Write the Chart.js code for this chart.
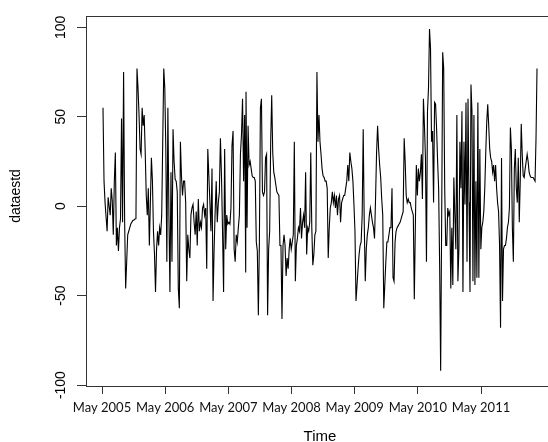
<!DOCTYPE html>
<html>
<head>
<meta charset="utf-8">
<title>dataestd</title>
<script src="https://cdn.jsdelivr.net/npm/chart.js@4.4.1/dist/chart.umd.min.js"></script>
<style>
  html, body { margin: 0; padding: 0; background: #fff; overflow: hidden; }
  #wrap { position: relative; width: 556px; height: 442px; }
</style>
</head>
<body>
<div id="wrap"><canvas id="chart"></canvas></div>
<script>
"use strict";

/* ── Data (weekly-ish readings) ────────────────────────────────────────── */
// each block of readings runs evenly from segStart[i] to segEnd[i] (decimal years)
const segStart = [2005.349, 2006.441, 2007.613, 2008.784, 2009.956, 2011.127];
const segEnd   = [2006.425, 2007.608, 2008.768, 2009.940, 2011.111, 2012.219];

const vals2005 = [55, 14, 2, -6, -14, 5, 0, -5, 10, 3, -16, 14, 30, -22, -12, -25, -12, -7, 49, -9,
  75, -8, -46, -31, -16, -14, -12, -10, -9, -8, -7.7, -7.2, -7, 77, 66, 51, 32, 29, 55, 45,
  51, 30, 6, -5, 10, -22, 2, 27, 14, -14, -27, -48, -24, -14, -22, -12, -16, -5, 36, 77,
  66, 32, -31, 55, -5, -48, 19];
const vals2006 = [-31, 43, 25, 15, 14, 8, -46, -57, 36, 17, 6, 14, 14, 2, -42, -16, -24, -29, -5, -1,
  1, -9, -16, -3, -22, 4, -14, -9, -12, -1, 1, -5, -1, -35, 32, 17, 2, -14, 21, -53,
  -24, -3, 14, -9, 2, 8, 38, 17, -14, -48, 32, -24, -5, -10, -9, -10, -1, 34, 42, -24,
  -31, -16, -20, -12, -5, 29, 40, 60, 14, 51, -37];
const vals2007 = [64, -12, 45, 23, 25, 21, 17, 16, 16, 14, -20, -25, -61, -20, 55, 60, 8, 6, 8, 27,
  29, -61, -24, -14, 36, 62, 30, 19, 16, 12, 8, 7, 6, -22, -22, -63, -22, -16, -22, -39,
  -29, -35, -24, -18, -24, -20, -16, 36, -42, -22, -18, -12, -14, -1, -18, -9, -5, -12, 19, -27,
  -12, -14, -9, 30, -12, -33, -27, -16, -14, 75, 36, 51];
const vals2008 = [36, 29, 21, 17, 16, 14, 14, 10, -29, -12, -1, 2, 8, 2, 6, -1, 6, -5, 4, 6,
  -9, 2, 4, 6, 6, 10, 14, 23, 14, 30, 25, 21, 14, 1, -14, -53, -44, -35, -27, -22,
  -20, -5, 43, -9, -42, -24, -16, -12, -5, -1, -5, -9, -12, -18, 4, 30, 45, 32, 23, 16,
  4, -5, -57, -44, -31, -20, -20, -16, -12, -12, 10, -40];
const vals2009 = [-42, -20, -14, -12, -11, -10, -9, -7, -5, -3, 38, 25, 6, 2, 4, 2, 2, -1, -3, -5,
  -52, -12, 23, 6, 21, 14, 19, 29, 4, 60, 45, 27, -31, 53, 66, 99, 88, 36, 42, 2,
  58, 57, 43, 25, 10, -33, -92, -7, 86, 77, 10, -22, -22, -1, -5, -3, -46, -12, -44, 16,
  -5, -24, 51, -42, -24, 36, 10, 53, -48, 36, 1, 58, -31];
const vals2011 = [60, 2, -48, 68, 53, -42, 51, -44, 14, -40, 58, -40, 32, -24, -12, -9, -3, 10, 30, 47,
  57, 45, 32, 27, 25, 19, 23, 14, 23, 10, 2, -3, -22, -68, 27, -53, -24, -22, -22, -18,
  -12, -9, -1, 44, 32, -12, -31, 21, 32, 10, 2, 27, -9, 14, 46, 29, 17, 16, 21, 25,
  29, 25, 19, 17, 16, 16, 16, 15, 14, 38, 77];

const segments = [vals2005, vals2006, vals2007, vals2008, vals2009, vals2011];

const tickYears = [2005, 2006, 2007, 2008, 2009, 2010, 2011];
const yTicks    = [-100, -50, 0, 50, 100];

/* ── Build {x, y} points ───────────────────────────────────────────────── */
const points = [];
segments.forEach((vals, s) => {
  const step = (segEnd[s] - segStart[s]) / (vals.length - 1);
  vals.forEach((v, i) => points.push({ x: segStart[s] + i * step, y: v }));
});

const INK = "#333";

/* ── Box, rotated y labels and axis titles (R style) ───────────────────── */
const rDecor = {
  id: "rDecor",
  afterDraw(chart) {
    const { ctx, chartArea: a, scales: { y } } = chart;
    ctx.save();
    ctx.strokeStyle = INK;
    ctx.lineWidth = 1;
    ctx.strokeRect(a.left + 0.5, a.top + 0.5, a.right - a.left, a.bottom - a.top);

    ctx.fillStyle = "#000";
    ctx.textAlign = "center";
    ctx.textBaseline = "middle";
    ctx.font = '14px "Liberation Sans", Arial, sans-serif';
    yTicks.forEach(v => {
      ctx.save();
      ctx.translate(61, y.getPixelForValue(v));
      ctx.rotate(-Math.PI / 2);
      ctx.fillText(String(v), 0, 0);
      ctx.restore();
    });

    ctx.save();
    ctx.translate(16, 196);
    ctx.rotate(-Math.PI / 2);
    ctx.fillText("dataestd", 0, 0);
    ctx.restore();

    ctx.font = '15px "Liberation Sans", Arial, sans-serif';
    ctx.fillText("Time", (a.left + a.right) / 2, 437);
    ctx.restore();
  },
};

new Chart(document.getElementById("chart"), {
  type: "line",
  data: {
    datasets: [{
      label: "dataestd",
      data: points,
      borderColor: "#000",
      borderWidth: 1.1,
      pointRadius: 0,
      tension: 0,
      fill: false,
    }],
  },
  options: {
    responsive: true,
    maintainAspectRatio: false,
    animation: false,
    devicePixelRatio: 1,
    layout: { padding: { top: 16, right: 2, left: 0, bottom: 0 } },
    plugins: { legend: { display: false }, tooltip: { enabled: false } },
    scales: {
      x: {
        type: "linear",
        min: 2005.08,
        max: 2012.488,
        afterBuildTicks: (s) => { s.ticks = tickYears.map(yr => ({ value: yr + 4 / 12 })); },
        afterFit: (s) => { s.height = 56; },
        grid: { drawOnChartArea: false, drawTicks: true, tickLength: 8, color: INK },
        border: { display: true, color: INK },
        ticks: {
          autoSkip: false, maxRotation: 0, minRotation: 0, padding: 6,
          color: "#111",
          font: { family: "Lato, 'Open Sans', sans-serif", size: 13 },
          callback: (v, i) => "May " + tickYears[i],
        },
      },
      y: {
        min: -100.5,
        max: 106.3,
        afterBuildTicks: (s) => { s.ticks = yTicks.map(v => ({ value: v })); },
        afterFit: (s) => { s.width = 86; },
        grid: { drawOnChartArea: false, drawTicks: true, tickLength: 9, color: INK },
        border: { display: true, color: INK },
        ticks: { display: false },
      },
    },
  },
  plugins: [rDecor],
});
</script>
</body>
</html>
